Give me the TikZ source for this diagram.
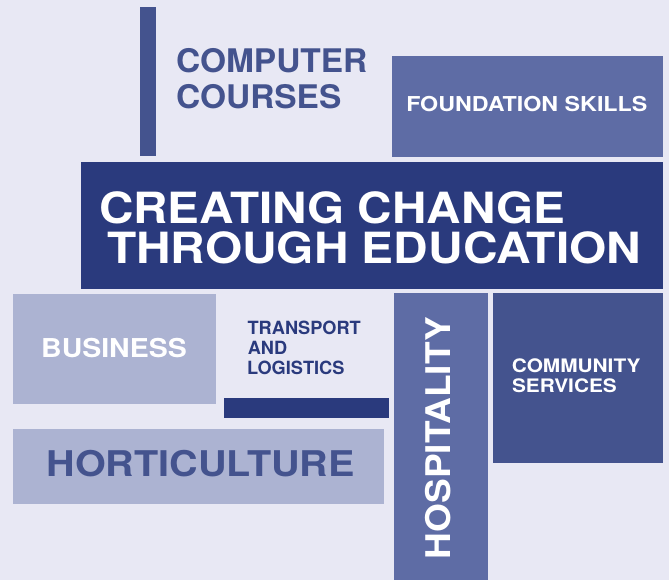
\documentclass[tikz,border=0pt]{standalone}
\usepackage{fontspec}
\setmainfont{texgyreheros-bold.otf}
\usepackage{graphicx}
\definecolor{bgc}{HTML}{E8E8F4}
\definecolor{navy}{HTML}{2A3A7D}
\definecolor{midblue}{HTML}{44538E}
\definecolor{softblue}{HTML}{5E6CA5}
\definecolor{paleblue}{HTML}{ACB3D2}
\newcommand{\sxx}[2]{\scalebox{#1}[1]{#2}}
\tikzset{
  lbl/.style={anchor=base west, inner sep=0pt, outer sep=0pt},
}
\begin{document}
\begin{tikzpicture}[x=1pt,y=-1pt]
\useasboundingbox (0,0) rectangle (669,580);
\fill[bgc] (0,0) rectangle (669,580);
% boxes
\fill[midblue] (140,7) rectangle (156,156);
\fill[softblue] (392,56) rectangle (663,157);
\fill[navy] (81,162) rectangle (663,289);
\fill[paleblue] (13,294) rectangle (216,404);
\fill[navy] (224,398) rectangle (389,418);
\fill[paleblue] (13,429) rectangle (384,504);
\fill[softblue] (394,293) rectangle (488,580);
\fill[midblue] (493,293) rectangle (663,463);
% texts
\node[lbl, text=midblue, font=\fontsize{32.5}{36}\selectfont] (comp1) at (176,72.3) {\sxx{1.03}{COMPUTER}};
\node[lbl, text=midblue, font=\fontsize{32.5}{36}\selectfont] (comp2) at (176,109) {\sxx{1.03}{COURSES}};
\node[lbl, text=white, font=\fontsize{20.5}{24}\selectfont] (found) at (406.3,111.7) {\sxx{1.134}{FOUNDATION SKILLS}};
\node[lbl, text=white, font=\fontsize{43}{48}\selectfont] (title1) at (99,223) {\sxx{1.108}{CREATING CHANGE}};
\node[lbl, text=white, font=\fontsize{43}{48}\selectfont] (title2) at (107,263) {\sxx{1.113}{THROUGH EDUCATION}};
\node[lbl, text=white, font=\fontsize{26}{30}\selectfont] (bus) at (41.2,357.7) {\sxx{1.095}{BUSINESS}};
\node[lbl, text=navy, font=\fontsize{18.2}{20}\selectfont] (tr1) at (247.6,334) {TRANSPORT};
\node[lbl, text=navy, font=\fontsize{18.2}{20}\selectfont] (tr2) at (247.8,354) {AND};
\node[lbl, text=navy, font=\fontsize{18.2}{20}\selectfont] (tr3) at (247,374) {LOGISTICS};
\node[lbl, text=white, font=\fontsize{18.6}{20}\selectfont] (com1) at (511.8,372.3) {\sxx{1.12}{COMMUNITY}};
\node[lbl, text=white, font=\fontsize{18.6}{20}\selectfont] (com2) at (512,392.3) {\sxx{1.12}{SERVICES}};
\node[lbl, text=midblue, font=\fontsize{35.4}{40}\selectfont] (hort) at (46.5,476) {\sxx{1.117}{HORTICULTURE}};
\node[lbl, text=white, font=\fontsize{34}{38}\selectfont, rotate=90] (hosp) at (450,559.3) {\sxx{1.09}{HOSPITALITY}};
\end{tikzpicture}
\end{document}
